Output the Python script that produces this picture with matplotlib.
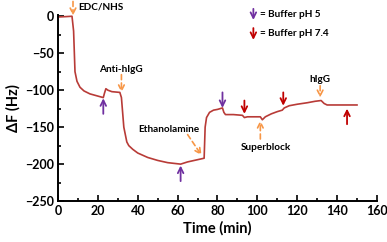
import matplotlib.pyplot as plt
from matplotlib.ticker import MultipleLocator

plt.rcParams['font.family'] = ['Lato', 'DejaVu Sans']

# sensorgram
time = [0, 4, 7, 7.8, 8.5, 9.5, 11, 13, 16, 20,
        22.7, 23.3, 24, 25, 27, 31, 31.8, 33, 34.5, 35.5,
        37.5, 40, 45, 50, 55, 61.5, 65, 70, 73.3, 73.8,
        74.5, 76, 78, 80, 82.5, 83.2, 84, 88, 92.5, 93.5,
        95, 101.5, 102.5, 104, 107, 110, 112.5, 113.5, 116, 120,
        125, 129, 132, 133.5, 135, 140, 145, 150]
dF = [-1, -0.5, 0, -20, -75, -88, -96, -101, -105, -108,
      -110, -104, -98, -100, -102, -103, -110, -150, -170, -175,
      -180, -185, -191, -195, -198, -200, -197, -194, -192, -150,
      -137, -130, -127, -126, -124, -130, -133, -133, -134, -137,
      -136, -136, -140, -136, -132, -129, -127, -124, -121, -119,
      -117, -115, -114, -118, -120, -120, -120, -120]

# injections: label, arrow tip, arrow tail, text position
inj_labels = ["EDC/NHS", "Anti-hIgG", "Ethanolamine", "Superblock", "hIgG"]
inj_tip = [(7.5, 1), (31.8, -103), (72, -188), (101.5, -141), (131.5, -110)]
inj_tail = [(7.5, 20), (31.8, -79), (65, -160), (101.5, -166), (131.5, -94)]
inj_text = [(10, 12), (31.5, -72), (55.5, -153), (104.5, -177), (131.5, -86)]

# buffer arrows: x, tip y, tail y
ph5_x = [22.7, 61.5, 82.5]
ph5_tip = [-111, -202, -124]
ph5_tail = [-132, -223, -103]
ph74_x = [93.5, 113, 145]
ph74_tip = [-132, -121, -125]
ph74_tail = [-114, -103, -146]

purple = '#7030A0'
red = '#C00000'
orange = '#F79646'

fig = plt.figure(figsize=(3.87, 2.42), dpi=100)
ax = fig.add_axes([0.150, 0.169, 0.824, 0.770])

ax.plot(time, dF, color='#B83B37', lw=1.2, clip_on=False)

for lab, tip, tail, txt in zip(inj_labels, inj_tip, inj_tail, inj_text):
    ax.annotate('', xy=tip, xytext=tail, annotation_clip=False,
                arrowprops=dict(arrowstyle='->', color=orange, lw=1.2,
                                linestyle=(0, (3, 2)), shrinkA=0, shrinkB=0))
    ha = 'left' if lab == "EDC/NHS" else 'center'
    ax.text(txt[0], txt[1], lab, ha=ha, va='center', fontsize=7.2,
            fontweight='bold')

for x, tip, tail in zip(ph5_x, ph5_tip, ph5_tail):
    ax.annotate('', xy=(x, tip), xytext=(x, tail),
                arrowprops=dict(arrowstyle='->', color=purple, lw=1.3,
                                shrinkA=0, shrinkB=0))
for x, tip, tail in zip(ph74_x, ph74_tip, ph74_tail):
    ax.annotate('', xy=(x, tip), xytext=(x, tail),
                arrowprops=dict(arrowstyle='->', color=red, lw=1.3,
                                shrinkA=0, shrinkB=0))

# legend drawn as text + arrows
ax.annotate('', xy=(98, -5), xytext=(98, 10), annotation_clip=False,
            arrowprops=dict(arrowstyle='->', color=purple, lw=1.3,
                            shrinkA=0, shrinkB=0))
ax.text(101.5, 3, "= Buffer pH 5", fontsize=7.2, fontweight='bold',
        va='center')
ax.annotate('', xy=(98, -32), xytext=(98, -16),
            arrowprops=dict(arrowstyle='->', color=red, lw=1.3,
                            shrinkA=0, shrinkB=0))
ax.text(101.5, -24, "= Buffer pH 7.4", fontsize=7.2, fontweight='bold',
        va='center')

ax.set_xlim(0, 160)
ax.set_ylim(-250, 2)
ax.xaxis.set_major_locator(MultipleLocator(20))
ax.xaxis.set_minor_locator(MultipleLocator(10))
ax.yaxis.set_major_locator(MultipleLocator(50))
ax.yaxis.set_minor_locator(MultipleLocator(25))
ax.tick_params(which='both', direction='in', width=1.2)
ax.tick_params(which='major', length=4, labelsize=9, pad=3)
ax.tick_params(which='minor', length=2.5)
for lbl in ax.get_xticklabels() + ax.get_yticklabels():
    lbl.set_fontweight('bold')

for s in ['top', 'right']:
    ax.spines[s].set_visible(False)
for s in ['left', 'bottom']:
    ax.spines[s].set_linewidth(1.4)

ax.set_xlabel("Time (min)", fontsize=10.5, fontweight='bold', labelpad=3)
ax.set_ylabel("ΔF (Hz)", fontsize=10.5, fontweight='bold', labelpad=3)

fig.savefig('out.png', dpi=100)
